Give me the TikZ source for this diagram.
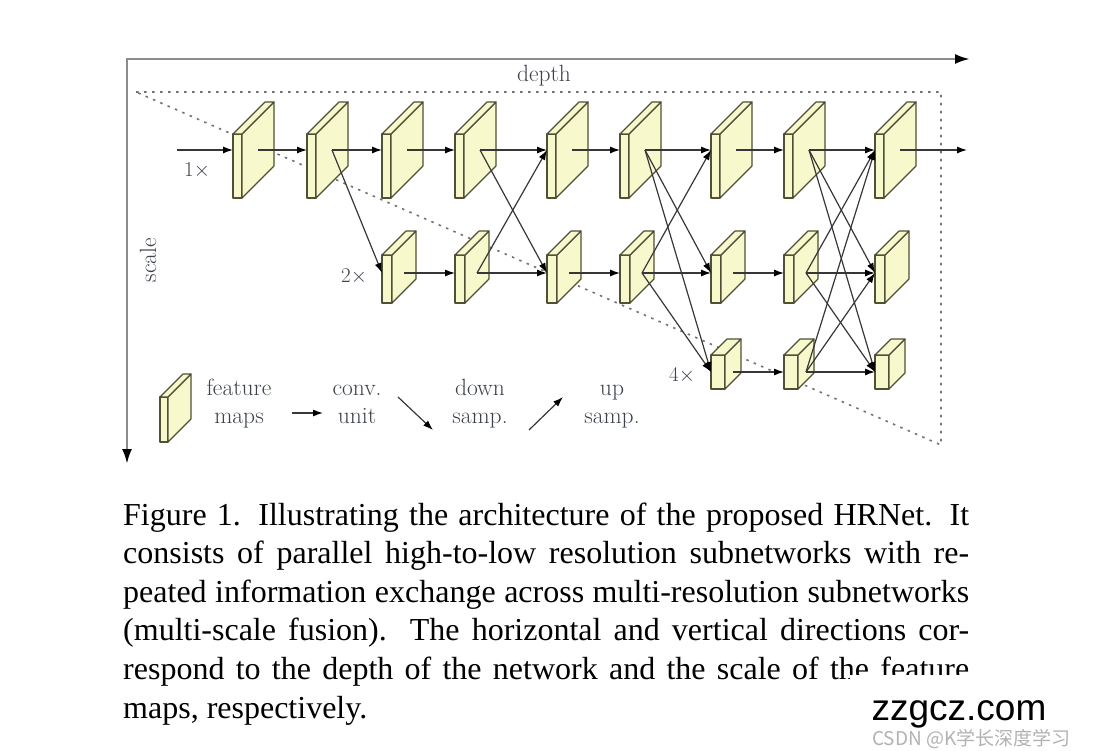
\documentclass[tikz,border=0pt]{standalone}
\usepackage{fontspec}
\newfontfamily\capfont{Liberation Serif}
\newfontfamily\wmfont{Liberation Sans}
\newfontfamily\cjkfont{Noto Sans CJK SC}
\usetikzlibrary{arrows.meta}

\definecolor{fmapfill}{RGB}{248,248,205}
\definecolor{fmapline}{RGB}{80,80,55}
\definecolor{axisgray}{RGB}{140,140,140}
\definecolor{linkgray}{RGB}{55,55,55}
\definecolor{txtgray}{RGB}{60,65,75}

\tikzset{
  fmap/.style={fill=fmapfill, draw=fmapline, line width=1.1pt, line join=round},
  link/.style={draw=linkgray, line width=1.2pt, -{Latex[length=10pt,width=7pt,color=black]}},
  axisline/.style={draw=axisgray, line width=2.5pt,
    {Latex[length=15pt,width=10pt,color=black]}-{Latex[length=15pt,width=10pt,color=black]}},
  dots/.style={draw=black!55, line width=1.6pt, dash pattern=on 2.5pt off 5.5pt},
  lbl/.style={inner sep=0pt, text=txtgray, font=\fontsize{23.5}{28}\selectfont},
  mult/.style={inner sep=0pt, text=txtgray, font=\fontsize{21}{25}\selectfont},
  capline/.style={inner sep=0pt, anchor=base west, font=\capfont\fontsize{32}{38}\selectfont}
}

% feature map: name, x, top y, strip width, height, depth, arrow y
\newcommand{\fmap}[7]{%
  \filldraw[fmap] (#2,#3) rectangle ++(#4,#5);
  \filldraw[fmap] (#2+#4,#3) -- ++(#6,-#6) -- ++(0,#5) -- ++(-#6,#6) -- cycle;
  \filldraw[fmap] (#2,#3) -- ++(#6,-#6) -- ++(#4,0) -- ++(-#6,#6) -- cycle;
  \coordinate (#1-in) at (#2,#7);
  \coordinate (#1-out) at (#2+#4+#6/2,#7);
}

\begin{document}
\begin{tikzpicture}[x=1pt,y=-1pt]
    \useasboundingbox (0,0) rectangle (1101,751);
    % axes
    \coordinate (origin) at (127,59);
    \coordinate (depthend) at (970,59);
    \coordinate (scaleend) at (127,464);
    \draw[axisline] (depthend) -- (origin) -- (scaleend);
    \node[lbl] (depthlbl) at (544,76) {depth};
    \node[lbl, rotate=90] (scalelbl) at (148,260) {scale};
    % dotted triangle
    \draw[dots] (136,92) -- (941,92) -- (941,445) -- cycle;
    % 1x row
    \foreach \n/\x in {1/233,2/307,3/382,4/455,5/547,6/620,7/711,8/784,9/875}
        \fmap{t\n}{\x}{134}{9}{64}{32}{150};
    % 2x row
    \foreach \n/\x in {3/382,4/455,5/547,6/620,7/711,8/784,9/875}
        \fmap{m\n}{\x}{255}{10}{48}{24}{273};
    % 4x row
    \foreach \n/\x in {7/711,8/784,9/875}
        \fmap{b\n}{\x}{355}{14}{34}{16}{372};
    \node[mult] (lone) at (197,170) {1$\times$};
    \node[mult] (ltwo) at (354,276) {2$\times$};
    \node[mult] (lfour) at (682,375) {4$\times$};
    % straight links
    \coordinate (input) at (177,150);
    \coordinate (output) at (967,150);
    \draw[link] (input) -- (t1-in);
    \foreach \a/\b in {1/2,2/3,3/4,4/5,5/6,6/7,7/8,8/9}
        \draw[link] (t\a-out) -- (t\b-in);
    \draw[link] (t9-out) -- (output);
    \foreach \a/\b in {3/4,4/5,5/6,6/7,7/8,8/9}
        \draw[link] (m\a-out) -- (m\b-in);
    \foreach \a/\b in {7/8,8/9}
        \draw[link] (b\a-out) -- (b\b-in);
    % exchange links
    \draw[link] (t2-out) -- (m3-in);
    \draw[link] (t4-out) -- (m5-in);
    \draw[link] (m4-out) -- (t5-in);
    \draw[link] (t6-out) -- (m7-in);
    \draw[link] (t6-out) -- (b7-in);
    \draw[link] (m6-out) -- (t7-in);
    \draw[link] (m6-out) -- (b7-in);
    \draw[link] (t8-out) -- (m9-in);
    \draw[link] (t8-out) -- (b9-in);
    \draw[link] (m8-out) -- (t9-in);
    \draw[link] (m8-out) -- (b9-in);
    \draw[link] (b8-out) -- (t9-in);
    \draw[link] (b8-out) -- (m9-in);
    % legend
    \fmap{lg}{160}{397}{8}{45}{23}{420};
    \node[lbl, align=center] (lgmaps) at (239,404) {feature\\maps};
    \coordinate (conva) at (292,413);
    \coordinate (convb) at (323,413);
    \draw[link] (conva) -- (convb);
    \node[lbl, align=center] (lgconv) at (357,404) {conv.\\unit};
    \coordinate (downa) at (398,397);
    \coordinate (downb) at (433,430);
    \draw[link] (downa) -- (downb);
    \node[lbl, align=center] (lgdown) at (480,404) {down\\samp.};
    \coordinate (upa) at (529,430);
    \coordinate (upb) at (563,397);
    \draw[link] (upa) -- (upb);
    \node[lbl, align=center] (lgup) at (612,407) {up\\samp.};
    % caption
    \node[capline] (cap1) at (123,525) {\makebox[846pt][s]{Figure 1. Illustrating the architecture of the proposed HRNet. It}};
    \node[capline] (cap2) at (123,563) {\makebox[846pt][s]{consists of parallel high-to-low resolution subnetworks with re-}};
    \node[capline] (cap3) at (123,602) {\makebox[846pt][s]{peated information exchange across multi-resolution subnetworks}};
    \node[capline] (cap4) at (123,640) {\makebox[846pt][s]{(multi-scale fusion). The horizontal and vertical directions cor-}};
    \node[capline] (cap5) at (123,679) {\makebox[846pt][s]{respond to the depth of the network and the scale of the feature}};
    \node[capline] (cap6) at (123,718) {maps, respectively.};
    % watermark
    \fill[white] (850,675) rectangle (1101,751);
    \node[inner sep=0pt, font=\wmfont\fontsize{37}{40}\selectfont] (wm) at (959,714) {zzgcz.com};
    \node[inner sep=0pt, anchor=west, text=black!30, font=\cjkfont\fontsize{19}{21}\selectfont] (csdn) at (872,739) {CSDN @K学长深度学习};
\end{tikzpicture}
\end{document}
